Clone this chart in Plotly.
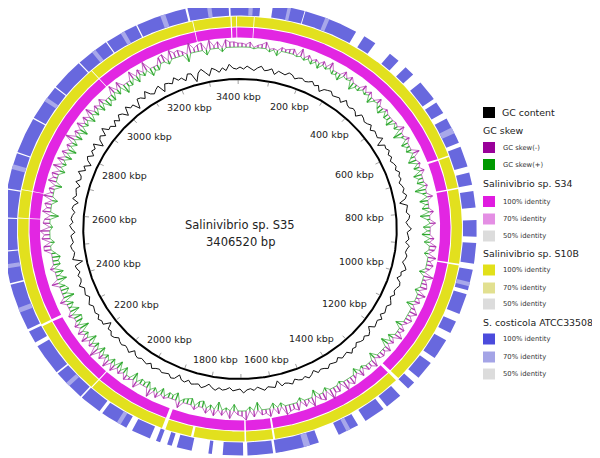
import numpy as np
import plotly.graph_objects as go

# ---------------- data ----------------
GENOME_BP = 3406520
GENOME_KBP = GENOME_BP / 1000.0
REF_NAME = "Salinivibrio sp. S35"

tick_kbp = list(range(200, 3401, 200))
tick_labels = [f"{t} kbp" for t in tick_kbp]

# GC content deviation per window (300 windows around the genome)
gc_content = [
    1,-1,2,0,-2,1,3,-1,0,2,-3,1,0,-1,2,1,-2,0,1,-1,
    0,2,-1,1,-4,0,1,2,-1,0,1,-2,3,0,-1,1,0,-3,2,1,
    -1,0,2,-2,1,0,-1,3,-5,1,0,2,-1,1,-2,0,1,-1,2,0,
    1,-2,0,1,-1,2,0,-6,1,0,-1,2,1,-2,0,3,-1,0,1,-2,
    2,0,-1,1,0,-2,1,3,-1,0,-3,1,2,0,-1,1,-2,0,2,-1,
    0,1,-2,2,-1,0,1,-4,0,2,-1,1,0,-2,1,0,3,-1,0,1,
    -2,1,0,-1,2,0,-1,1,-3,0,2,-1,1,0,-2,2,0,-1,1,-5,
    1,0,-1,2,0,-2,1,-1,0,3,-1,0,1,-2,0,1,-1,2,0,-3,
    0,2,-1,0,1,-2,1,0,-4,1,2,-1,0,1,-1,0,2,-2,1,0,
    -1,1,0,-3,2,0,-1,1,0,-2,1,2,-1,0,-6,1,0,2,-1,1,
    0,-1,2,0,-2,1,0,-1,3,0,-1,1,-2,0,1,-7,2,0,-1,1,
    2,-1,0,1,-3,0,2,-1,1,0,-2,1,0,-4,2,-1,0,1,-2,3,
    -1,0,4,-2,1,-5,0,2,-3,1,-1,3,-6,0,2,-2,5,-1,0,-4,
    1,-3,2,0,-5,3,-1,0,-7,2,1,-2,4,-1,-3,0,2,-6,1,0,
    -2,3,-1,0,-4,2,1,-8,0,3,-1,-5,2,0,-3,1,-2,4,0,-1,
]

# GC skew per window (300 windows); + drawn inward (green), - drawn outward (purple)
gc_skew = [
    -3,-2,-4,1,-2,-3,-5,2,-1,4,-3,-2,-3,-4,1,-6,2,-3,3,-2,
    4,-3,2,-5,3,2,5,-4,1,-3,6,2,3,-4,2,-3,5,1,-4,3,
    5,-2,4,3,6,-1,3,-4,7,2,-3,5,2,4,-5,3,6,-2,4,-3,
    6,3,5,-2,8,3,-4,6,2,5,-3,7,2,-4,5,2,6,-3,4,-5,
    -4,3,-6,-2,-5,-3,4,-7,-2,-4,-5,3,-6,-2,-4,5,-3,-6,-2,-5,
    -3,5,-4,-2,-6,4,-3,6,-5,-2,-4,-3,5,-6,-3,-4,2,-5,4,-3,
    -6,-3,-7,2,-5,-4,-8,3,-6,-4,5,-7,-2,-5,3,-6,-4,-5,-7,3,
    -5,4,-6,-3,-4,6,-5,3,-7,-4,-3,5,-6,2,-4,6,-5,3,-4,5,
    4,-3,5,4,3,-5,6,3,4,-2,5,-4,3,-6,5,3,4,-5,6,-2,
    -4,5,-3,6,-5,4,-6,3,-4,5,-7,4,-3,6,-5,3,-4,7,-3,5,
    6,-3,7,2,5,-4,8,3,6,4,-5,7,2,6,-3,5,4,6,3,-5,
    -5,3,-6,-4,-7,2,-5,-4,6,-6,-3,-5,4,-7,-2,-4,5,-6,-3,-5,
    4,-6,3,-5,5,-4,6,-3,4,-7,5,-3,6,-5,3,-4,5,-6,4,-3,
    5,-4,6,3,5,-6,4,-5,7,3,4,-6,5,-4,3,-7,6,3,4,-5,
    -6,3,-7,-4,-5,-3,6,-8,-3,-5,-6,4,-7,-2,-5,3,-6,-4,-4,-3,
]

# BLAST identity rings: gaps (kbp start, kbp end) in otherwise continuous rings
s34_gaps = [(34, 36), (660, 664), (745, 749), (941, 945), (1273, 1281), (1617, 1622),
            (1688, 1692), (1889, 1898), (2098, 2101), (2297, 2303), (2582, 2584),
            (2655, 2657), (3009, 3011), (3289, 3291), (3383, 3386), (3397, 3399)]
s10b_gaps = [(34, 36), (660, 664), (745, 749), (941, 945), (1273, 1281), (1617, 1622),
             (1688, 1692), (1818, 1824), (1889, 1898), (2098, 2101), (2297, 2303),
             (2582, 2584), (2655, 2657), (3009, 3011), (3289, 3291), (3383, 3386),
             (3397, 3399)]
# S. costicola ring is fragmented: list of matched segments (kbp)
costicola_segments = [
    (0, 47), (76, 150), (152, 278), (300, 330), (372, 398), (420, 445), (470, 520),
    (530, 560), (575, 640), (650, 700), (715, 745), (760, 800), (830, 870), (885, 935),
    (950, 1000), (1010, 1060), (1080, 1110), (1130, 1180), (1195, 1240), (1255, 1275),
    (1300, 1340), (1350, 1400), (1420, 1470), (1519, 1621), (1627, 1686), (1696, 1743),
    (1768, 1776), (1815, 1850), (1862, 1873), (1890, 1900), (1915, 1960), (1975, 2040),
    (2048, 2100), (2104, 2180), (2184, 2260), (2270, 2300), (2306, 2420), (2424, 2500),
    (2503, 2580), (2583, 2650), (2653, 2740), (2743, 2830), (2833, 2920), (2923, 3000),
    (3003, 3080), (3083, 3160), (3163, 3280), (3285, 3380), (3384, 3406.52),
]
# lighter (70% identity) stretches inside the S. costicola ring
costicola_light = [
    (20, 30), (110, 118), (200, 210), (600, 615), (980, 990), (1440, 1450), (1540, 1555),
    (1990, 2000), (2140, 2150), (2350, 2362), (2460, 2470), (2700, 2712), (2880, 2890),
    (3040, 3050), (3120, 3130), (3220, 3232), (3330, 3340),
]

legend_groups = [
    ("GC skew", [("GC skew(-)", "#990099"), ("GC skew(+)", "#009900")]),
    ("Salinivibrio sp. S34", [("100% identity", "#e01be0"), ("70% identity", "#e48fe4"), ("50% identity", "#dcdcdc")]),
    ("Salinivibrio sp. S10B", [("100% identity", "#e2e01a"), ("70% identity", "#e2e090"), ("50% identity", "#dcdcdc")]),
    ("S. costicola ATCC33508", [("100% identity", "#4b4bdc"), ("70% identity", "#a4a4e6"), ("50% identity", "#dcdcdc")]),
]

# ---------------- geometry / styling ----------------
CX, CY, SX = 240.0, 229.0, 1.045
FONT = "DejaVu Sans"


def xy(pos, r):
    th = 2 * np.pi * np.asarray(pos, dtype=float) / GENOME_KBP
    return CX + r * SX * np.sin(th), CY - r * np.cos(th)


def gaps_to_segments(gaps):
    segs, start = [], 0.0
    for a, b in gaps:
        segs.append((start, a))
        start = b
    segs.append((start, GENOME_KBP))
    return segs


def ring_trace(segments, r1, r2, color):
    xs, ys = [], []
    for a, b in segments:
        p = np.linspace(a, b, max(3, int((b - a) / 2) + 2))
        xo, yo = xy(p, r2)
        xi, yi = xy(p[::-1], r1)
        xs += list(xo) + list(xi) + [None]
        ys += list(yo) + list(yi) + [None]
    return go.Scatter(x=xs, y=ys, mode="lines", fill="toself", fillcolor=color,
                      line=dict(width=0), hoverinfo="skip", showlegend=False)


fig = go.Figure()

# identity rings
fig.add_trace(ring_trace(gaps_to_segments(s34_gaps), 191.5, 201.5, "#e226e2"))
fig.add_trace(ring_trace(gaps_to_segments(s10b_gaps), 202.5, 212.5, "#e2e01e"))
fig.add_trace(ring_trace(costicola_segments, 213.5, 226.5, "#6868de"))
fig.add_trace(ring_trace(costicola_light, 213.5, 226.5, "#a8a8ea"))

# GC skew: spikes plus a jagged outline through their tips
n = len(gc_skew)
pos = (np.arange(n) + 0.5) * GENOME_KBP / n
skv = np.array(gc_skew, dtype=float)
SKEW_R = 182.0
for sign, color in ((-1, "#b035b0"), (1, "#2ea82e")):
    part = np.where(np.sign(skv) == sign, skv, 0.0)
    xs, ys = [], []
    for p, v in zip(pos, part):
        if v == 0:
            continue
        x0, y0 = xy(p, SKEW_R)
        x1, y1 = xy(p, SKEW_R - v * 1.3)
        xs += [x0, x1, None]
        ys += [y0, y1, None]
    fig.add_trace(go.Scatter(x=xs, y=ys, mode="lines", line=dict(color=color, width=1.3),
                             hoverinfo="skip", showlegend=False))
    pc2 = np.append(pos, pos[0] + GENOME_KBP)
    pv2 = np.append(part, part[0])
    xo, yo = xy(pc2, SKEW_R - pv2 * 1.3)
    fig.add_trace(go.Scatter(x=xo, y=yo, mode="lines", line=dict(color=color, width=0.7),
                             hoverinfo="skip", showlegend=False))

# GC content line
m = len(gc_content)
posc = (np.arange(m + 1)) * GENOME_KBP / m
vals = np.array(gc_content + gc_content[:1], dtype=float)
xc, yc = xy(posc, 161 + vals)
fig.add_trace(go.Scatter(x=xc, y=yc, mode="lines", line=dict(color="#111111", width=1.0),
                         hoverinfo="skip", showlegend=False))

# backbone circle
pc = np.linspace(0, GENOME_KBP, 721)
xb, yb = xy(pc, 150)
fig.add_trace(go.Scatter(x=xb, y=yb, mode="lines", line=dict(color="black", width=2),
                         hoverinfo="skip", showlegend=False))

# minor ticks
txs, tys = [], []
for t in range(100, 3401, 100):
    x0, y0 = xy(t, 149)
    x1, y1 = xy(t, 145)
    txs += [x0, x1, None]
    tys += [y0, y1, None]
fig.add_trace(go.Scatter(x=txs, y=tys, mode="lines", line=dict(color="#777777", width=0.7),
                         hoverinfo="skip", showlegend=False))

annotations = []
for t, lab in zip(tick_kbp, tick_labels):
    th = 2 * np.pi * t / GENOME_KBP
    rc = 133 - 13 * np.sin(th) ** 2
    x, y = xy(t, rc)
    annotations.append(dict(x=float(x), y=float(y), text=lab, showarrow=False,
                            xanchor="center", yanchor="middle",
                            font=dict(family=FONT, size=9.5, color="#222222")))

annotations.append(dict(x=CX, y=225, text=REF_NAME, showarrow=False,
                        font=dict(family=FONT, size=11.5, color="#222222")))
annotations.append(dict(x=CX, y=242, text=f"{GENOME_BP} bp", showarrow=False,
                        font=dict(family=FONT, size=11.5, color="#222222")))

# legend
shapes = []
LX, TX = 483, 502
shapes.append(dict(type="rect", x0=LX, x1=LX + 12, y0=107, y1=118, fillcolor="black",
                   line=dict(width=0), xref="x", yref="y"))
annotations.append(dict(x=TX - 2, y=112.5, text="GC content", showarrow=False, xanchor="left",
                        font=dict(family=FONT, size=9.4, color="#222222")))
heading_y = [130, 183, 253, 322]
item_y = [[147.5, 164.5], [201.5, 219, 236], [270, 288, 304], [339, 357, 374]]
for (head, items), hy, iys in zip(legend_groups, heading_y, item_y):
    annotations.append(dict(x=LX - 2, y=hy, text=head, showarrow=False, xanchor="left",
                            font=dict(family=FONT, size=9.4, color="#222222")))
    for (lab, col), iy in zip(items, iys):
        shapes.append(dict(type="rect", x0=LX, x1=LX + 12, y0=iy - 5.5, y1=iy + 5.5,
                           fillcolor=col, line=dict(width=0), xref="x", yref="y"))
        annotations.append(dict(x=TX - 1, y=iy, text=lab, showarrow=False, xanchor="left",
                                font=dict(family=FONT, size=6.8, color="#333333")))

# page body has an 8px margin: map data units 1:1 to window pixels
fig.update_layout(
    width=592, height=450, margin=dict(l=0, r=0, t=0, b=0),
    paper_bgcolor="white", plot_bgcolor="white",
    xaxis=dict(range=[8, 600], visible=False, fixedrange=True),
    yaxis=dict(range=[458, 8], visible=False, fixedrange=True),
    annotations=annotations, shapes=shapes, showlegend=False,
)
fig.write_html("out.html")
